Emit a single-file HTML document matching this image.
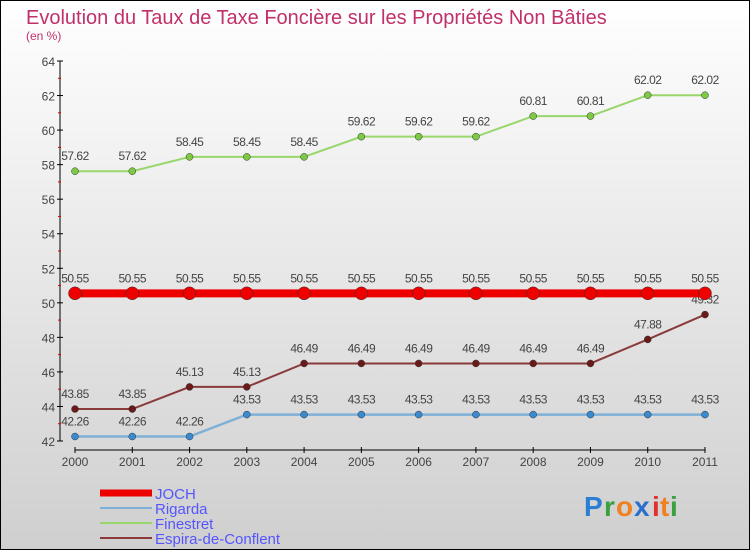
<!DOCTYPE html>
<html><head><meta charset="utf-8"><style>
html,body{margin:0;padding:0}
body{width:750px;height:550px;overflow:hidden;font-family:"Liberation Sans",sans-serif}
svg{display:block}
</style></head><body>
<svg id="chart" width="750" height="550" xmlns="http://www.w3.org/2000/svg">
<defs><linearGradient id="bg" x1="0" y1="0" x2="0" y2="1"><stop offset="0" stop-color="#ffffff"/><stop offset="1" stop-color="#cfcfcf"/></linearGradient></defs>
<rect x="0.5" y="0.5" width="749" height="549" fill="url(#bg)" stroke="#000"/>
<text x="26" y="24" font-size="20" fill="#c0306a">Evolution du Taux de Taxe Foncière sur les Propriétés Non Bâties</text>
<text x="26" y="40" font-size="12" fill="#c0306a">(en %)</text>
<g id="axes"></g><g id="series"></g><g id="legend"></g>
<g font-size="28" font-weight="bold" font-family="Liberation Sans, sans-serif">
<text x="584" y="516" fill="#2a7fd4">P</text><text x="604" y="516" fill="#3aa040">r</text><text x="616" y="516" fill="#f08020">o</text><text x="634" y="516" fill="#2a6fd0">x</text><text x="652" y="516" fill="#e03030">i</text><text x="660" y="516" fill="#f08020">t</text><text x="670" y="516" fill="#3aa040">i</text>
</g>
</svg>
<script>
const years=[2000,2001,2002,2003,2004,2005,2006,2007,2008,2009,2010,2011];
const yTicks=[42,44,46,48,50,52,54,56,58,60,62,64];
const joch=[50.55,50.55,50.55,50.55,50.55,50.55,50.55,50.55,50.55,50.55,50.55,50.55];
const rigarda=[42.26,42.26,42.26,43.53,43.53,43.53,43.53,43.53,43.53,43.53,43.53,43.53];
const finestret=[57.62,57.62,58.45,58.45,58.45,59.62,59.62,59.62,60.81,60.81,62.02,62.02];
const espira=[43.85,43.85,45.13,45.13,46.49,46.49,46.49,46.49,46.49,46.49,47.88,49.32];
const NS="http://www.w3.org/2000/svg";
const X=i=>75+i*(630/11);
const Y=v=>441-(v-42)*(380/22);
function mk(tag,attrs,parent){const e=document.createElementNS(NS,tag);for(const k in attrs)e.setAttribute(k,attrs[k]);parent.appendChild(e);return e;}
const axes=document.getElementById('axes');
let yl=mk('line',{x1:60,y1:61,x2:60,y2:441,stroke:'#000','stroke-width':1},axes);


yTicks.forEach(t=>{
 const y=Y(t);
 mk('line',{x1:57,y1:y,x2:63,y2:y,stroke:'#000'},axes);
 if(t<64) mk('line',{x1:58,y1:Y(t+1),x2:61,y2:Y(t+1),stroke:'#d00'},axes);
 const tx=mk('text',{x:55,y:y+5,'font-size':12,'text-anchor':'end',fill:'#444'},axes);
 tx.textContent=t;
 
 
});
let xl=mk('line',{x1:75,y1:450,x2:705,y2:450,stroke:'#000'},axes);


years.forEach((yr,i)=>{
 mk('line',{x1:X(i),y1:447,x2:X(i),y2:453,stroke:'#000'},axes);
 const tx=mk('text',{x:X(i),y:466,'font-size':12,'text-anchor':'middle',fill:'#444'},axes);
 tx.textContent=yr;
 
 
});
const seriesG=document.getElementById('series');
function draw(vals,name,line,dot,w,r){
 const g=mk('g',{},seriesG);
 
 
 mk('polyline',{points:vals.map((v,i)=>X(i)+','+Y(v)).join(' '),fill:'none',stroke:line,'stroke-width':w},g);
 vals.forEach((v,i)=>{
  const c=mk('circle',{cx:X(i),cy:Y(v),r:r,fill:dot,stroke:'#333','stroke-width':0.5},g);
  
  
  const t=mk('text',{x:X(i),y:Y(v)-11,'font-size':12,'text-anchor':'middle',fill:'#444','letter-spacing':'-0.5'},g);
  t.textContent=v.toFixed(2);
  
  
 });
}
draw(finestret,'finestret','#99d66b','#7dc943',2,3.5);
draw(espira,'espira-de-conflent','#8a3a3a','#6b1a1a',2,3.5);
draw(rigarda,'rigarda','#7fb0d8','#3a8ad0',2.5,3.5);
draw(joch,'joch','#ee0000','#ee0000',8,6.5);
const lg=document.getElementById('legend');
const items=[['JOCH','#ee0000',7],['Rigarda','#7fb0d8',2],['Finestret','#99d66b',2],['Espira-de-Conflent','#8a3a3a',2]];
items.forEach((it,i)=>{
 const y=493+i*15;
 const g=mk('g',{},lg);
 
 
 mk('line',{x1:100,y1:y,x2:152,y2:y,stroke:it[1],'stroke-width':it[2]},g);
 const t=mk('text',{x:155,y:y+6,'font-size':15,fill:'#5555ff'},g);
 t.textContent=it[0];
});
</script>
</body></html>
